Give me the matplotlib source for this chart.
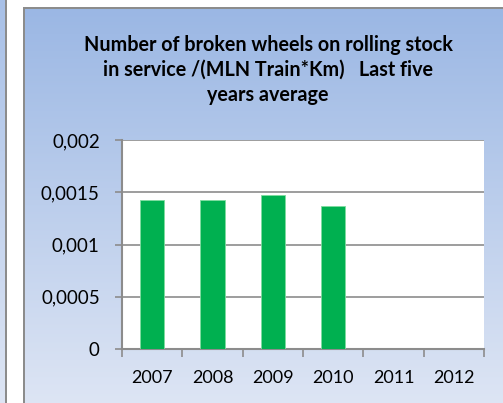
import numpy as np
import matplotlib.pyplot as plt
from matplotlib.patches import Rectangle
from matplotlib.ticker import FuncFormatter

years = ['2007', '2008', '2009', '2010', '2011', '2012']
broken = [0.001426, 0.00143, 0.00147, 0.001365, np.nan, np.nan]
yticks = [0, 0.0005, 0.001, 0.0015, 0.002]
title = ('Number of broken wheels on rolling stock\n'
         'in service /(MLN Train*Km)   Last five\n'
         'years average')

plt.rcParams['font.family'] = ['Lato', 'DejaVu Sans']

W, H = 503, 403
fig = plt.figure(figsize=(W / 100, H / 100), dpi=100)
fig.patch.set_facecolor('white')

# background: neighbour chart edge on the left, gradient panel on the right
bg = fig.add_axes([0, 0, 1, 1])
bg.set_xlim(0, W)
bg.set_ylim(H, 0)
bg.axis('off')
grad = np.linspace(0, 1, 256)[:, None]
top = np.array([0.607, 0.718, 0.894])
bot = np.array([0.867, 0.898, 0.957])
img = top + (bot - top) * grad[..., None]
bg.imshow(img, extent=[24, W, H, 8], aspect='auto', zorder=0)
bg.imshow(img, extent=[0, 5, H, -100], aspect='auto', zorder=0)
bg.add_patch(Rectangle((5, -5), 2, H + 10, color='#8c8c8c', lw=0, zorder=1))
bg.add_patch(Rectangle((23, 7), 2, H, color='#8c8c8c', lw=0, zorder=1))
bg.add_patch(Rectangle((23, 7), W, 2, color='#8c8c8c', lw=0, zorder=1))
bg.text(268, 70, title, ha='center', va='center', fontsize=14.2,
        fontweight='bold', linespacing=1.3, color='black')

ax = fig.add_axes([122 / W, 1 - 349 / H, 362 / W, 209 / H])
ax.set_facecolor('white')
x = np.arange(len(years))
ax.bar(x, broken, width=0.4, color='#00b050', edgecolor='#7fdc9f', lw=0.6, zorder=3)
ax.set_xlim(-0.5, len(years) - 0.5)
ax.set_ylim(0, 0.002)
ax.set_yticks(yticks)
ax.yaxis.set_major_formatter(FuncFormatter(
    lambda v, p: '0' if v == 0 else ('%g' % v).replace('.', ',')))
ax.yaxis.grid(True, color='#8c8c8c', lw=1.2, zorder=1)
ax.set_axisbelow(True)

ax.set_xticks(x)
ax.set_xticklabels(years)
ax.set_xticks(np.arange(len(years) + 1) - 0.5, minor=True)
ax.tick_params(axis='x', which='major', length=0, pad=15, labelsize=13)
ax.tick_params(axis='x', which='minor', length=5.5, width=1.2, color='#8c8c8c')
ax.tick_params(axis='y', length=5, width=1.2, color='#8c8c8c', pad=11, labelsize=13.5)

for s in ['top', 'right']:
    ax.spines[s].set_visible(False)
for s in ['left', 'bottom']:
    ax.spines[s].set_color('#8c8c8c')
    ax.spines[s].set_linewidth(1.5)

fig.savefig('out.png', dpi=100)
